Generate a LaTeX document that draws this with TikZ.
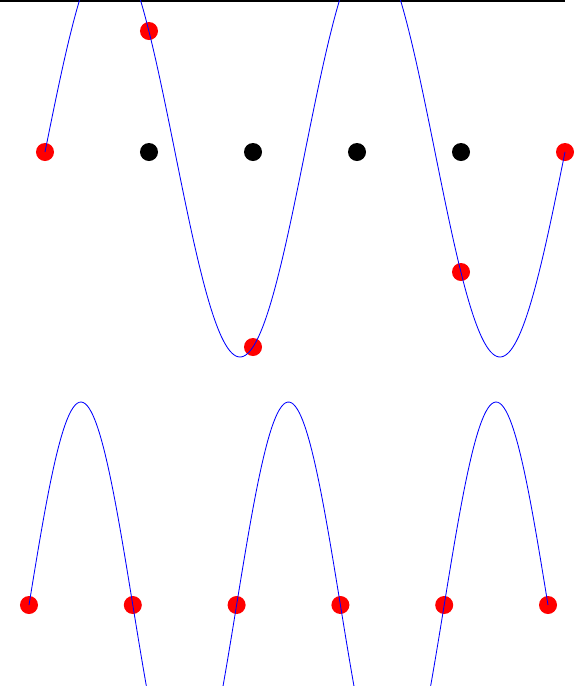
\documentclass[tikz,border=0pt]{standalone}
\usetikzlibrary{positioning}

\begin{document}
\begin{tikzpicture}[
  x=0.025cm, y=-0.025cm,
  campione/.style={circle, fill=red, draw=none, inner sep=0pt, minimum size=0.45cm},
  nodo/.style={circle, fill=black, draw=none, inner sep=0pt, minimum size=0.45cm},
  curva/.style={draw=blue, line width=0.6pt},
  bordo/.style={draw=black, line width=1.1pt}
]

% Misure in pixel dell'originale: l'asse y e' rovesciato, quindi le
% coordinate si leggono come sulla figura (origine in alto a sinistra).
\def\ampiezza{205}

\useasboundingbox (0,0) rectangle (575,686);
\clip (0,0) rectangle (575,686);

% ---- riga superiore --------------------------------------------------
\draw[bordo] (0,0.8) -- (565,0.8);

% ---- campioni in alto: nodi sull'asse e valori -------------------
\node[nodo] (n1) at (149,152) {};
\node[nodo] (n2) at (253,152) {};
\node[nodo] (n3) at (357,152) {};
\node[nodo] (n4) at (461,152) {};

\node[campione] (a0) at (45,152) {};
\node[campione] (a1) at (149,31) {};
\node[campione] (a2) at (253,347) {};
\node[campione] (a4) at (461,272) {};
\node[campione] (a5) at (565,152) {};

% ---- campioni in basso: tutti sugli zeri ---------------------------
\node[campione] (b0) at (29,605) {};
\node[campione] (b1) at (132.8,605) {};
\node[campione] (b2) at (236.6,605) {};
\node[campione] (b3) at (340.4,605) {};
\node[campione] (b4) at (444.2,605) {};
\node[campione] (b5) at (548,605) {};

% ---- sinusoidi -------------------------------------------------------
% (180/130 e 180/103.8 gia' calcolati, per non sforare i 16000 di pgfmath)
\draw[curva] plot[domain=45:565, samples=260, smooth]
  (\x, {152 - \ampiezza*sin(1.384615*(\x-45))});       % 2 periodi su 5 passi
\draw[curva] plot[domain=29:548, samples=260, smooth]
  (\x, {605 - 203*sin(1.734104*(\x-29))});             % 2.5 periodi su 5 passi

\end{tikzpicture}
\end{document}
